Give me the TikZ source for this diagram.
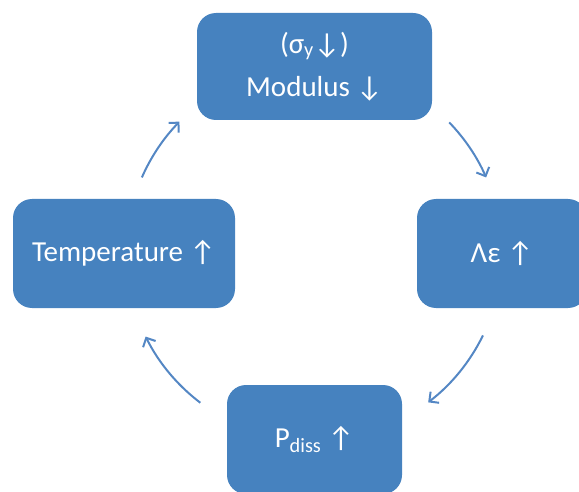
\documentclass[tikz,border=0pt]{standalone}
\usepackage{fontspec}
\setmainfont{Carlito}
\usepackage{tikz}
\usetikzlibrary{arrows.meta, positioning}

\definecolor{cycblue}{RGB}{70,130,191}
\definecolor{arrowblue}{RGB}{84,135,196}

\begin{document}
\begin{tikzpicture}[x=1pt, y=1pt,
      box/.style={draw=none, fill=cycblue, rounded corners=19pt, text=white, align=center,
        minimum height=109pt, inner sep=0pt, font=\fontsize{29}{43}\selectfont},
      cyclearrow/.style={draw=arrowblue, line width=2pt, -{Straight Barb[length=7pt, width=14pt]}}
    ]
      \useasboundingbox (0,0) rectangle (579,491);
      \clip (0,0) rectangle (579,491);

      % the four stages of the loop
      \node[box, minimum width=235pt, minimum height=107pt] (modulus) at (314.5,424.5) {(σ\textsubscript{y}↓)\\Modulus ↓};
      \node[box, minimum width=170pt] (strain) at (502,237.5) {Λε ↑};
      \node[box, minimum width=175pt] (power) at (314.5,51.5) {P\textsubscript{diss} ↑};
      \node[box, minimum width=222pt] (temp) at (124,237.5) {Temperature ↑};

      % arcs round the middle of the loop
      \coordinate (centre) at (314,238);
      \draw[cyclearrow] ([shift={(44:188)}]centre) arc[start angle=44, end angle=23.7, radius=188];
      \draw[cyclearrow] ([shift={(-26:188)}]centre) arc[start angle=-26, end angle=-52.6, radius=188];
      \draw[cyclearrow] ([shift={(232.8:188)}]centre) arc[start angle=232.8, end angle=206.4, radius=188];
      \draw[cyclearrow] ([shift={(156.3:188)}]centre) arc[start angle=156.3, end angle=135.7, radius=188];

    \end{tikzpicture}
\end{document}
